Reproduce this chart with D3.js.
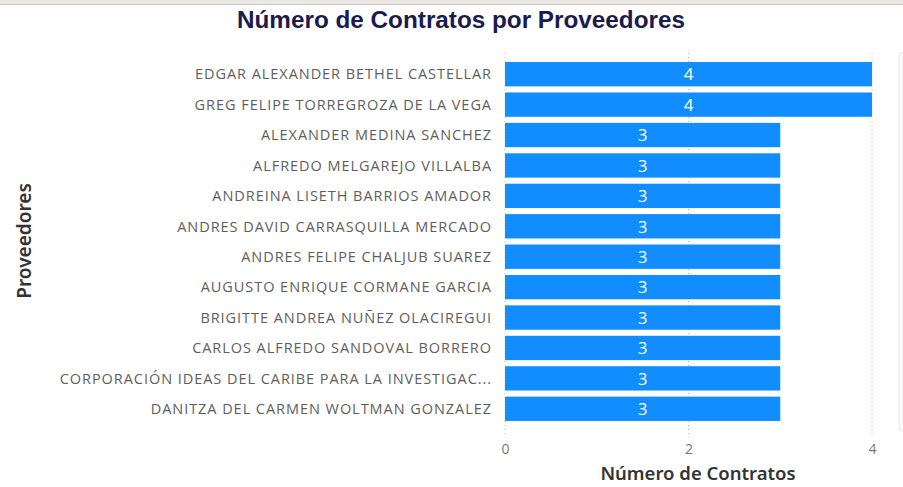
<!DOCTYPE html>
<html>
<head>
<meta charset="utf-8">
<script src="https://cdn.jsdelivr.net/npm/d3@7"></script>
<style>
  html, body { margin: 0; padding: 0; background: #fff; }
  svg { display: block; }
</style>
</head>
<body>
<div id="chart"></div>
<script>
// data
const proveedores = [
  "EDGAR ALEXANDER BETHEL CASTELLAR",
  "GREG FELIPE TORREGROZA DE LA VEGA",
  "ALEXANDER MEDINA SANCHEZ",
  "ALFREDO MELGAREJO VILLALBA",
  "ANDREINA LISETH BARRIOS AMADOR",
  "ANDRES DAVID CARRASQUILLA MERCADO",
  "ANDRES FELIPE CHALJUB SUAREZ",
  "AUGUSTO ENRIQUE CORMANE GARCIA",
  "BRIGITTE ANDREA NUÑEZ OLACIREGUI",
  "CARLOS ALFREDO SANDOVAL BORRERO",
  "CORPORACIÓN IDEAS DEL CARIBE PARA LA INVESTIGAC...",
  "DANITZA DEL CARMEN WOLTMAN GONZALEZ"
];
const contratos = [4, 4, 3, 3, 3, 3, 3, 3, 3, 3, 3, 3];
const xTicks = [0, 2, 4];

const fullW = 903, fullH = 487;
const plot = { left: 505, right: 872, top: 59, bottom: 424 };

const svg = d3.select("#chart").append("svg")
  .attr("width", fullW).attr("height", fullH);

// top frame strip and right-hand panel edge
svg.append("rect").attr("x", 0).attr("y", 0).attr("width", fullW).attr("height", 4).attr("fill", "#ebe7e3");
svg.append("rect").attr("x", 0).attr("y", 4).attr("width", fullW).attr("height", 1).attr("fill", "#c8c6c4");
svg.append("rect").attr("x", 899).attr("y", 53).attr("width", 10).attr("height", 378)
  .attr("rx", 3).attr("fill", "#fafafa").attr("stroke", "#e6e6e6");

const data = proveedores.map((p, i) => ({ name: p, value: contratos[i] }));

const x = d3.scaleLinear().domain([0, 4]).range([plot.left, plot.right]);
const y = d3.scaleBand().domain(proveedores).range([plot.top, plot.bottom]).paddingInner(0.2).paddingOuter(0.1);

// dotted gridlines
svg.append("g")
  .selectAll("line").data(xTicks).join("line")
  .attr("x1", d => x(d)).attr("x2", d => x(d))
  .attr("y1", 53).attr("y2", 434)
  .attr("stroke", "#b8b8b8").attr("stroke-width", 1)
  .attr("stroke-dasharray", "1,3");

// bars
svg.append("g")
  .selectAll("rect").data(data).join("rect")
  .attr("x", x(0))
  .attr("y", d => y(d.name))
  .attr("width", d => x(d.value) - x(0))
  .attr("height", y.bandwidth())
  .attr("fill", "#118dff");

// data labels
svg.append("g")
  .selectAll("text").data(data).join("text")
  .attr("x", d => (x(0) + x(d.value)) / 2)
  .attr("y", d => y(d.name) + y.bandwidth() / 2)
  .attr("dy", "0.37em")
  .attr("text-anchor", "middle")
  .style("font-family", "'Open Sans', sans-serif")
  .style("font-size", "17px")
  .style("fill", "#fff")
  .text(d => d.value);

// category labels
const yAxis = svg.append("g")
  .attr("transform", `translate(${plot.left - 13},0)`)
  .call(d3.axisLeft(y).tickSize(0).tickPadding(0));
yAxis.select(".domain").remove();
yAxis.selectAll("text")
  .attr("dy", "0.36em")
  .style("font-family", "'Open Sans', sans-serif")
  .style("font-size", "14.5px")
  .style("letter-spacing", "0.95px")
  .style("fill", "#605e5c");

// x axis ticks
const xAxis = svg.append("g")
  .attr("transform", `translate(0,${444})`)
  .call(d3.axisBottom(x).tickValues(xTicks).tickFormat(d3.format("d")).tickSize(0).tickPadding(0));
xAxis.select(".domain").remove();
xAxis.selectAll("text")
  .style("font-family", "'Open Sans', sans-serif")
  .style("font-size", "14px")
  .style("fill", "#777");

// titles
svg.append("text")
  .attr("x", 461).attr("y", 28)
  .attr("text-anchor", "middle")
  .attr("textLength", 448)
  .attr("lengthAdjust", "spacingAndGlyphs")
  .style("font-family", "'Liberation Sans Narrow', 'Liberation Sans', Arial, sans-serif")
  .style("font-weight", "bold")
  .style("font-size", "23px")
  .style("fill", "#1b1b4d")
  .text("Número de Contratos por Proveedores");

svg.append("text")
  .attr("x", 698).attr("y", 480)
  .attr("text-anchor", "middle")
  .style("font-family", "'Noto Sans', sans-serif")
  .style("font-weight", "600")
  .style("font-size", "18.5px")
  .style("fill", "#333")
  .text("Número de Contratos");

svg.append("text")
  .attr("transform", `translate(31,241) rotate(-90)`)
  .attr("text-anchor", "middle")
  .style("font-family", "'Noto Sans', sans-serif")
  .style("font-weight", "600")
  .style("font-size", "19px")
  .style("fill", "#333")
  .text("Proveedores");
</script>
</body>
</html>
